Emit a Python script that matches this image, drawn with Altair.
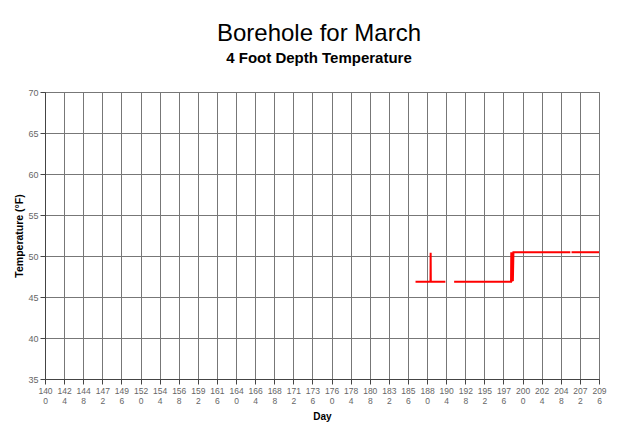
import altair as alt
import pandas as pd

# Readings (day of year, temperature in °F), grouped into unbroken segments
days = [186.55, 188.43, 188.45, 188.47, 190.30,
        191.40, 198.55, 198.58, 198.62, 198.66, 198.70, 198.74, 198.78, 198.85, 206.00,
        206.15, 209.60]
temps = [46.85, 46.85, 50.40, 46.85, 46.85,
         46.85, 46.85, 50.45, 46.90, 50.45, 46.90, 50.45, 46.95, 50.46, 50.46,
         50.46, 50.46]
segments = [1, 1, 1, 1, 1,
            2, 2, 2, 2, 2, 2, 2, 2, 2, 2,
            3, 3]

x_ticks = [140.0, 142.4, 144.8, 147.2, 149.6, 152.0, 154.4, 156.8, 159.2, 161.6,
           164.0, 166.4, 168.8, 171.2, 173.6, 176.0, 178.4, 180.8, 183.2, 185.6,
           188.0, 190.4, 192.8, 195.2, 197.6, 200.0, 202.4, 204.8, 207.2, 209.6]
y_ticks = [35, 40, 45, 50, 55, 60, 65, 70]

df = pd.DataFrame({"day": days, "temp": temps, "seg": segments,
                   "idx": list(range(len(days)))})

FONT = "Liberation Sans"

chart = alt.Chart(df).mark_line(color="#ff0000", strokeWidth=2).encode(
    x=alt.X("day:Q",
            scale=alt.Scale(domain=[140, 209.6], nice=False, zero=False),
            axis=alt.Axis(values=x_ticks, title="Day",
                          labelExpr="[floor(datum.value) + '', (round(datum.value * 10) % 10) + '']",
                          labelLineHeight=10, labelFontSize=8.5, labelColor="#666",
                          labelFont=FONT, labelOverlap=False, labelFlush=False,
                          labelPadding=2, tickSize=5, tickColor="#444",
                          domainColor="#444", gridColor="#777", grid=True,
                          titleFont=FONT, titleFontSize=10, titleFontWeight="bold",
                          titleColor="#000", titlePadding=7)),
    y=alt.Y("temp:Q",
            scale=alt.Scale(domain=[35, 70], nice=False, zero=False),
            axis=alt.Axis(values=y_ticks, title="Temperature (°F)",
                          labelFontSize=9, labelColor="#666", labelFont=FONT,
                          labelPadding=2, tickSize=5, tickColor="#444",
                          domainColor="#444", gridColor="#777", grid=True,
                          titleFont=FONT, titleFontSize=10.5, titleFontWeight="bold",
                          titleColor="#000", titlePadding=3)),
    detail="seg:N",
    order="idx:Q",
).properties(
    width=554,
    height=287,
    padding={"left": 37, "top": 84, "right": 33, "bottom": 50},
    autosize=alt.AutoSizeParams(type="none"),
    title=alt.TitleParams(
        text="Borehole for March",
        subtitle="4 Foot Depth Temperature",
        font=FONT, fontSize=24, fontWeight="normal", color="#000",
        subtitleFont=FONT, subtitleFontSize=15, subtitleFontWeight="bold",
        subtitleColor="#000", subtitlePadding=5,
        anchor="middle", offset=22, dx=-3,
    ),
).configure_view(stroke="#999")

chart.save("out.html", embed_options={"renderer": "svg", "actions": False})
